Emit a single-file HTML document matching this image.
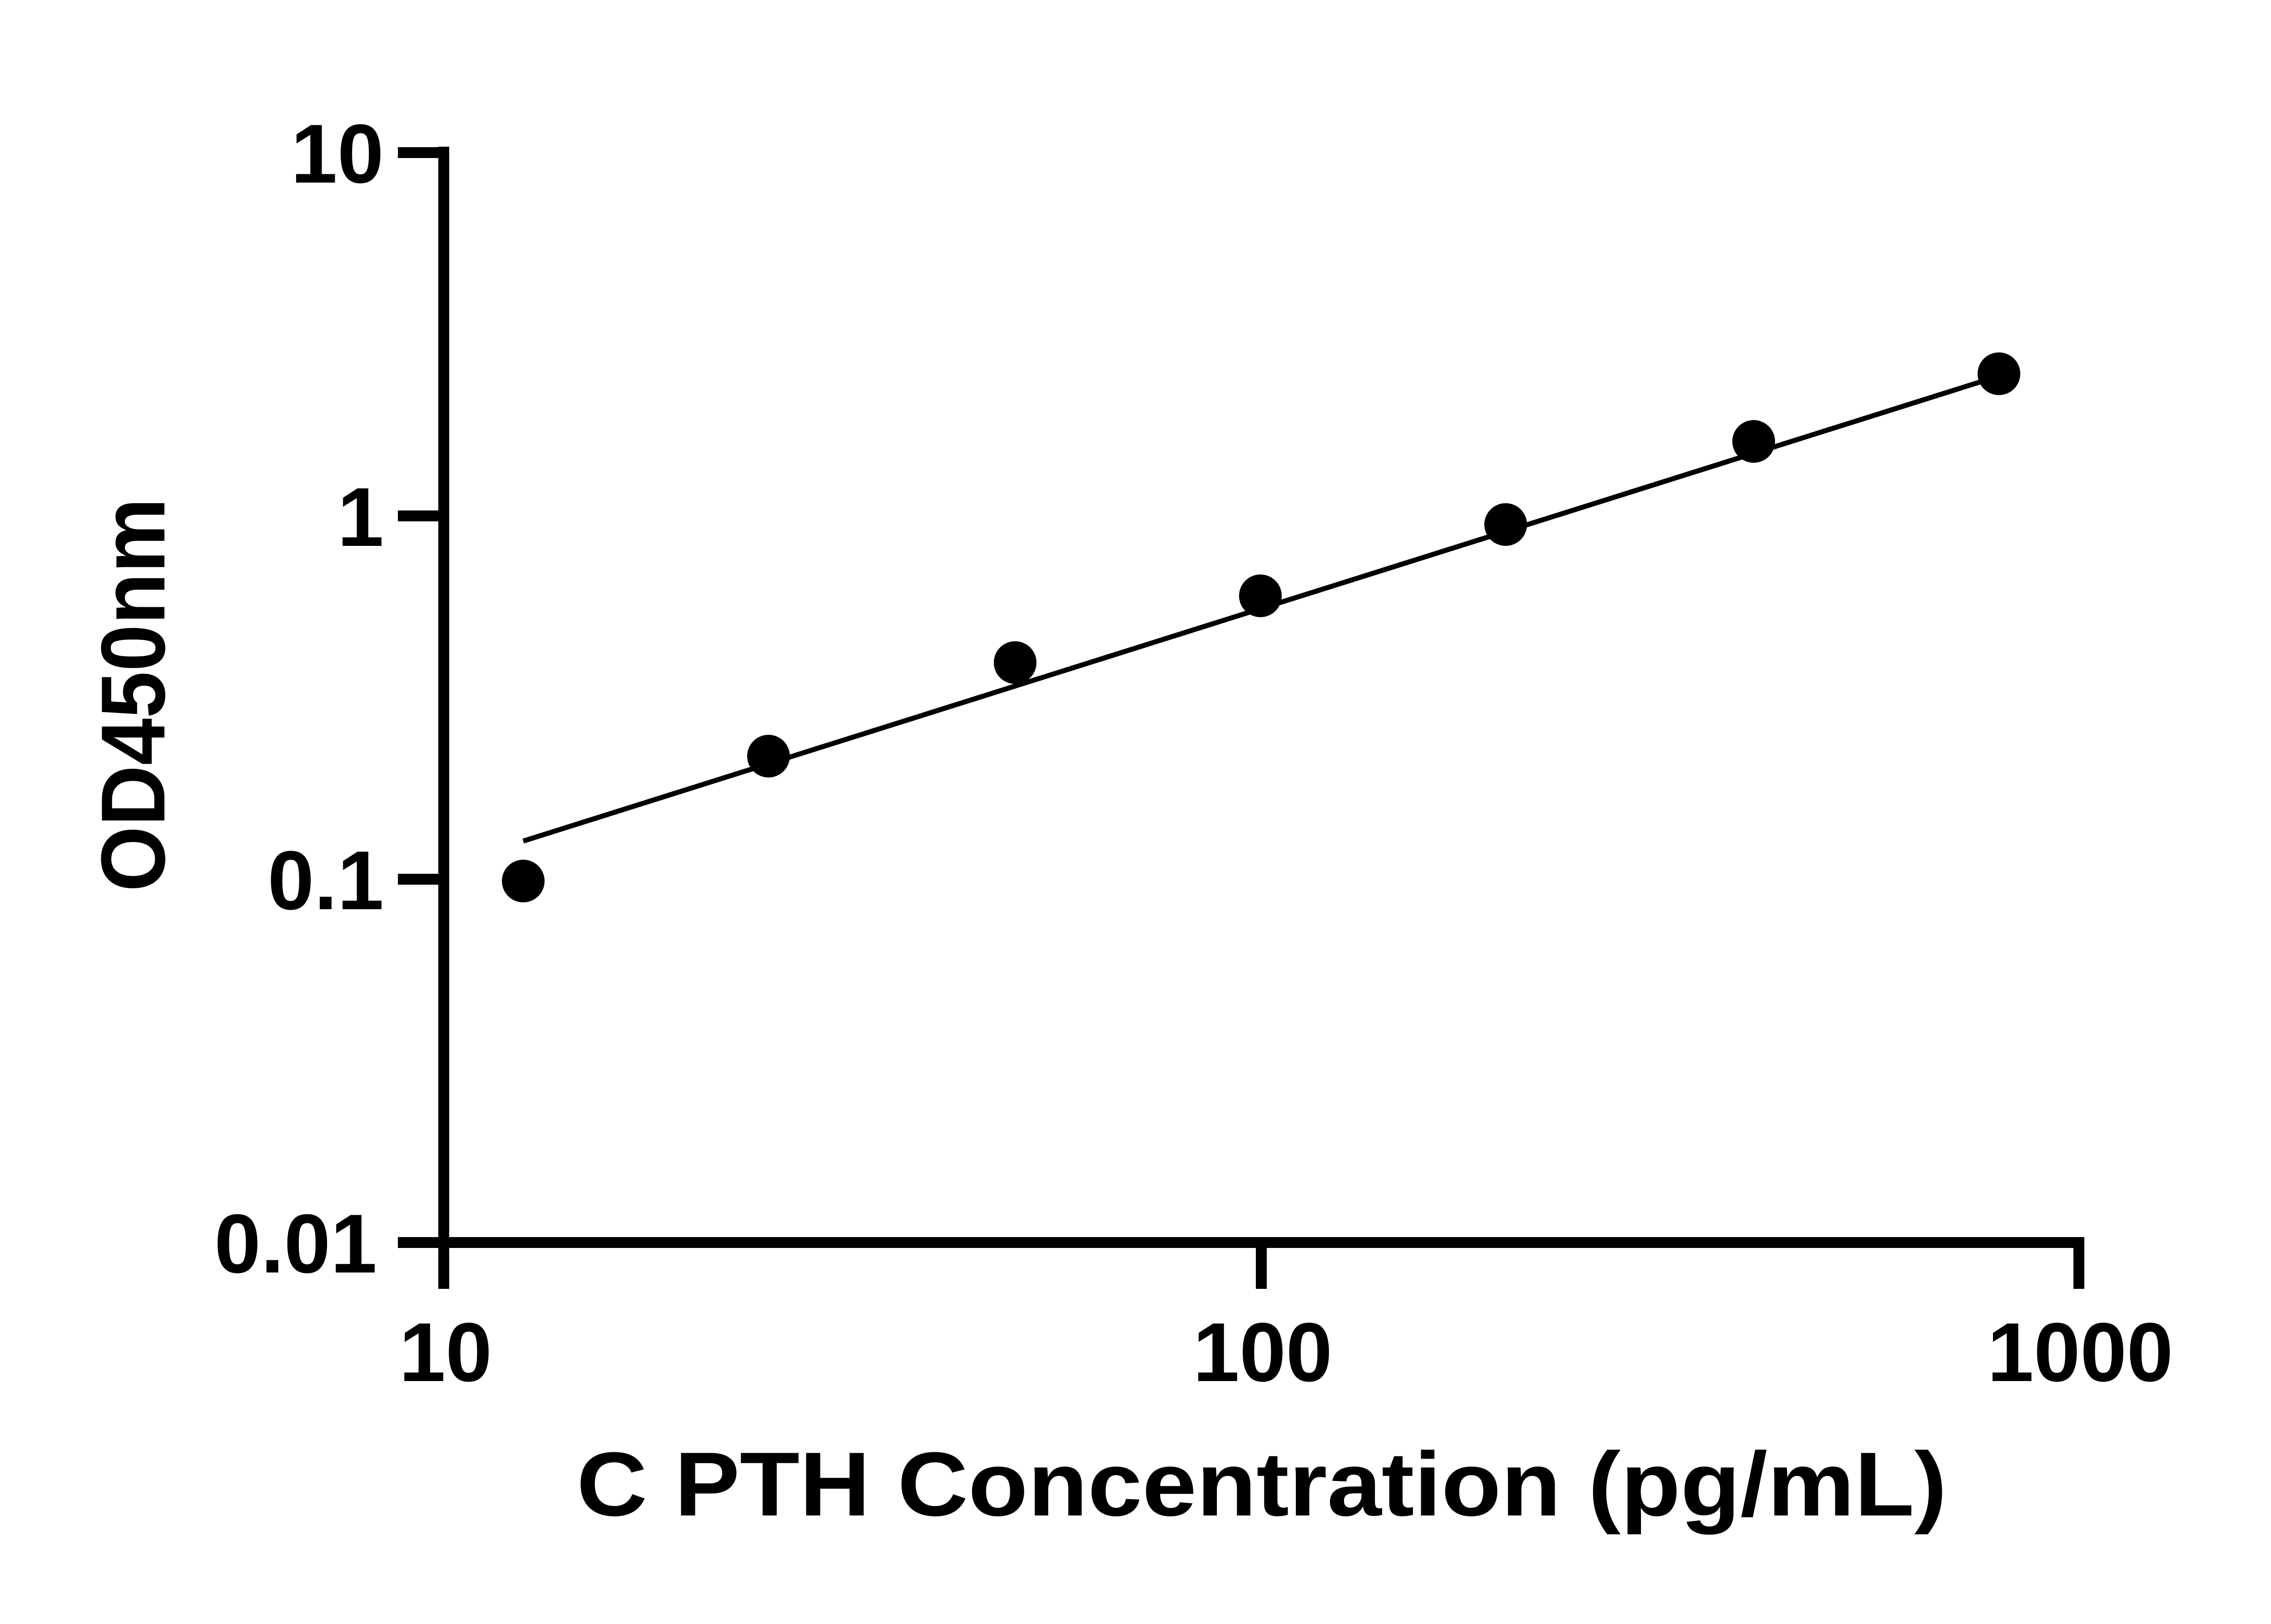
<!DOCTYPE html>
<html><head><meta charset="utf-8"><style>html,body{margin:0;padding:0;background:#fff}svg{display:block}</style></head>
<body>
<svg width="5130" height="3576" viewBox="0 0 5130 3576" xmlns="http://www.w3.org/2000/svg">
<rect width="5130" height="3576" fill="#fff"/>
<g stroke="#000" stroke-width="24" fill="none" stroke-linecap="butt">
<line x1="977" y1="323" x2="977" y2="2838"/>
<line x1="876" y1="2736" x2="4588" y2="2736"/>
<line x1="876" y1="336" x2="989" y2="336"/>
<line x1="876" y1="1136" x2="989" y2="1136"/>
<line x1="876" y1="1936" x2="989" y2="1936"/>
<line x1="2777" y1="2724" x2="2777" y2="2838"/>
<line x1="4577" y1="2724" x2="4577" y2="2838"/>
</g>
<line x1="1152" y1="1852" x2="4401" y2="828" stroke="#000" stroke-width="11"/>
<g fill="#000">
<circle cx="1152" cy="1940" r="47"/>
<circle cx="1692" cy="1665" r="47"/>
<circle cx="2235" cy="1459" r="47"/>
<circle cx="2775" cy="1312" r="47"/>
<circle cx="3315" cy="1155" r="47"/>
<circle cx="3861" cy="972" r="47"/>
<circle cx="4401" cy="823" r="47"/>
</g>
<g font-family="Liberation Sans, sans-serif" font-weight="bold" font-size="184" fill="#000">
<g text-anchor="end">
<text x="845" y="402">10</text>
<text x="845" y="1202">1</text>
<text x="845" y="2002">0.1</text>
<text x="830" y="2802">0.01</text>
</g>
<g text-anchor="middle">
<text x="981" y="3041">10</text>
<text x="2780" y="3041">100</text>
<text x="4580" y="3041">1000</text>
</g>
</g>
<text x="2778" y="3337" text-anchor="middle" font-family="Liberation Sans, sans-serif" font-weight="bold" font-size="200" textLength="3017" lengthAdjust="spacingAndGlyphs">C PTH Concentration (pg/mL)</text>
<text transform="translate(362,1530) rotate(-90)" text-anchor="middle" font-family="Liberation Sans, sans-serif" font-weight="bold" font-size="200" textLength="867" lengthAdjust="spacingAndGlyphs">OD450nm</text>
</svg>
</body></html>
